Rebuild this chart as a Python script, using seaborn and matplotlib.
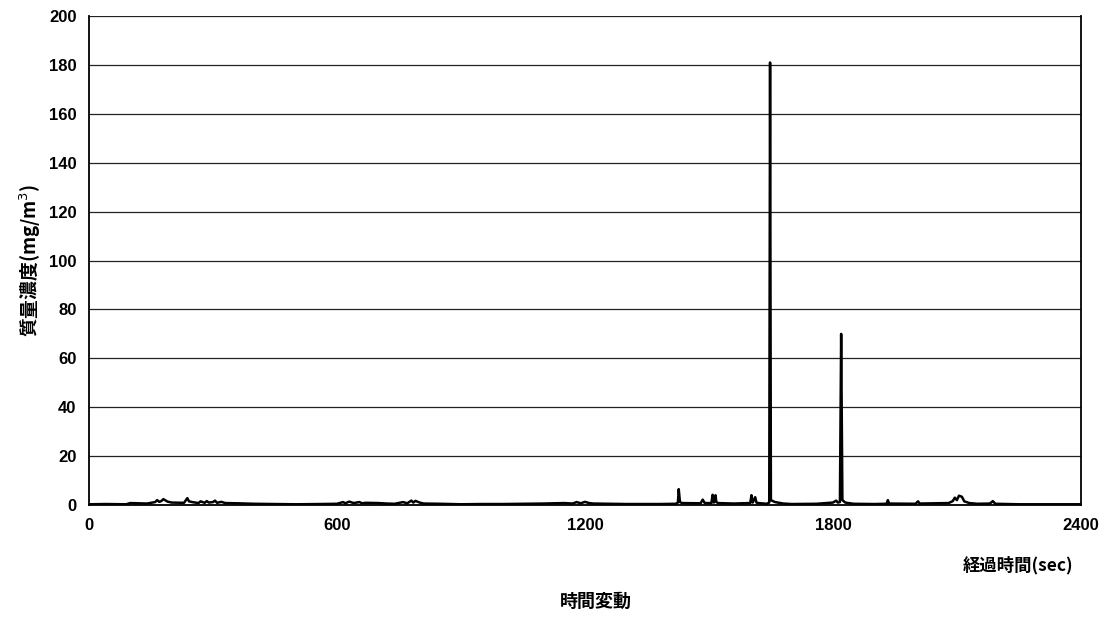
import matplotlib
matplotlib.use("Agg")
import matplotlib.pyplot as plt
import seaborn as sns
import pandas as pd

# ---- data ----
time_s = [0, 40, 90, 100, 140, 150, 160, 165, 170, 175, 180, 190, 200, 230, 238, 242, 250,
          265, 270, 280, 285, 290, 300, 305, 310, 320, 330, 360, 400, 450, 500, 560,
          600, 615, 620, 630, 640, 655, 660, 670, 700, 720, 740, 760, 770, 780, 785,
          790, 800, 810, 850, 900, 950, 1000, 1050, 1100, 1150, 1170, 1180, 1190, 1200,
          1210, 1220, 1300, 1380, 1420, 1425, 1427, 1430, 1435, 1480, 1485, 1490, 1506,
          1509, 1512, 1516, 1518, 1522, 1560, 1600, 1603, 1606, 1612, 1615, 1620, 1640,
          1646, 1648, 1650, 1660, 1680, 1700, 1760, 1800, 1808, 1812, 1817, 1820, 1823,
          1830, 1850, 1900, 1930, 1933, 1936, 2000, 2006, 2010, 2080, 2090, 2095, 2100,
          2105, 2112, 2118, 2130, 2150, 2180, 2187, 2193, 2250, 2320, 2400]
conc_mg_m3 = [0.3, 0.4, 0.3, 0.8, 0.6, 0.9, 1.2, 2.0, 1.3, 1.6, 2.4, 1.4, 1.0, 0.9, 2.8, 1.5, 1.2,
              0.8, 1.5, 0.9, 1.6, 1.0, 1.2, 1.8, 0.9, 1.3, 0.8, 0.7, 0.5, 0.4, 0.3, 0.4,
              0.5, 1.2, 0.7, 1.4, 0.8, 1.2, 0.7, 0.9, 0.8, 0.6, 0.5, 1.2, 0.7, 1.8, 1.0,
              1.7, 1.0, 0.6, 0.5, 0.3, 0.4, 0.4, 0.5, 0.6, 0.8, 0.6, 1.2, 0.7, 1.3,
              0.8, 0.6, 0.4, 0.4, 0.5, 1.0, 6.5, 1.2, 0.8, 0.7, 2.2, 0.8, 0.8,
              4.2, 1.0, 4.0, 1.2, 0.8, 0.6, 0.8, 4.0, 1.0, 3.2, 1.0, 0.8, 0.5,
              1.0, 181.0, 2.0, 1.2, 0.6, 0.4, 0.5, 1.0, 1.8, 1.0, 1.2, 70.0, 2.0,
              1.0, 0.5, 0.4, 0.5, 2.0, 0.6, 0.5, 1.5, 0.6, 0.8, 1.6, 3.0, 2.0,
              3.8, 3.4, 1.5, 0.8, 0.5, 0.6, 1.6, 0.5, 0.3, 0.3, 0.3]
x_ticks = [0, 600, 1200, 1800, 2400]
y_ticks = [0, 20, 40, 60, 80, 100, 120, 140, 160, 180, 200]

df = pd.DataFrame({"time": time_s, "conc": conc_mg_m3})

sns.set_style("white")
plt.rcParams["font.family"] = ["Liberation Sans", "Noto Sans CJK JP", "DejaVu Sans"]
plt.rcParams["text.color"] = "black"
plt.rcParams["xtick.color"] = "black"
plt.rcParams["ytick.color"] = "black"
plt.rcParams["axes.labelcolor"] = "black"

fig = plt.figure(figsize=(11.12, 6.17), dpi=100)
ax = fig.add_axes([0.080, 0.1815, 0.892, 0.7925])

sns.lineplot(data=df, x="time", y="conc", ax=ax, color="black", linewidth=1.8,
             estimator=None, zorder=3)

ax.set_xlim(0, 2400)
ax.set_ylim(0, 200)
ax.set_xticks(x_ticks)
ax.set_yticks(y_ticks)
ax.set_xticklabels([str(v) for v in x_ticks], fontsize=12, fontweight="bold")
ax.set_yticklabels([str(v) for v in y_ticks], fontsize=12, fontweight="bold")
ax.tick_params(axis="both", length=0, pad=9, colors="black")
ax.yaxis.grid(True, color="#222222", linewidth=0.9, linestyle="-")
ax.xaxis.grid(False)
for side in ["left", "right", "bottom"]:
    ax.spines[side].set_visible(True)
    ax.spines[side].set_color("black")
    ax.spines[side].set_linewidth(1.3)
ax.spines["top"].set_visible(False)

ax.set_xlabel("")
ax.set_ylabel("質量濃度(mg/m$^3$)", fontsize=13.5, fontweight="bold", color="black",
              family=["Noto Sans CJK JP", "DejaVu Sans"], labelpad=4)

fig.text(0.965, 0.084, "経過時間(sec)", ha="right", va="center", fontsize=12.5,
         fontweight="bold", color="black", family=["Noto Sans CJK JP", "DejaVu Sans"])
fig.text(0.536, 0.026, "時間変動", ha="center", va="center", fontsize=13,
         fontweight="bold", color="black", family=["Noto Sans CJK JP", "DejaVu Sans"])

fig.savefig("out.png", dpi=100)
